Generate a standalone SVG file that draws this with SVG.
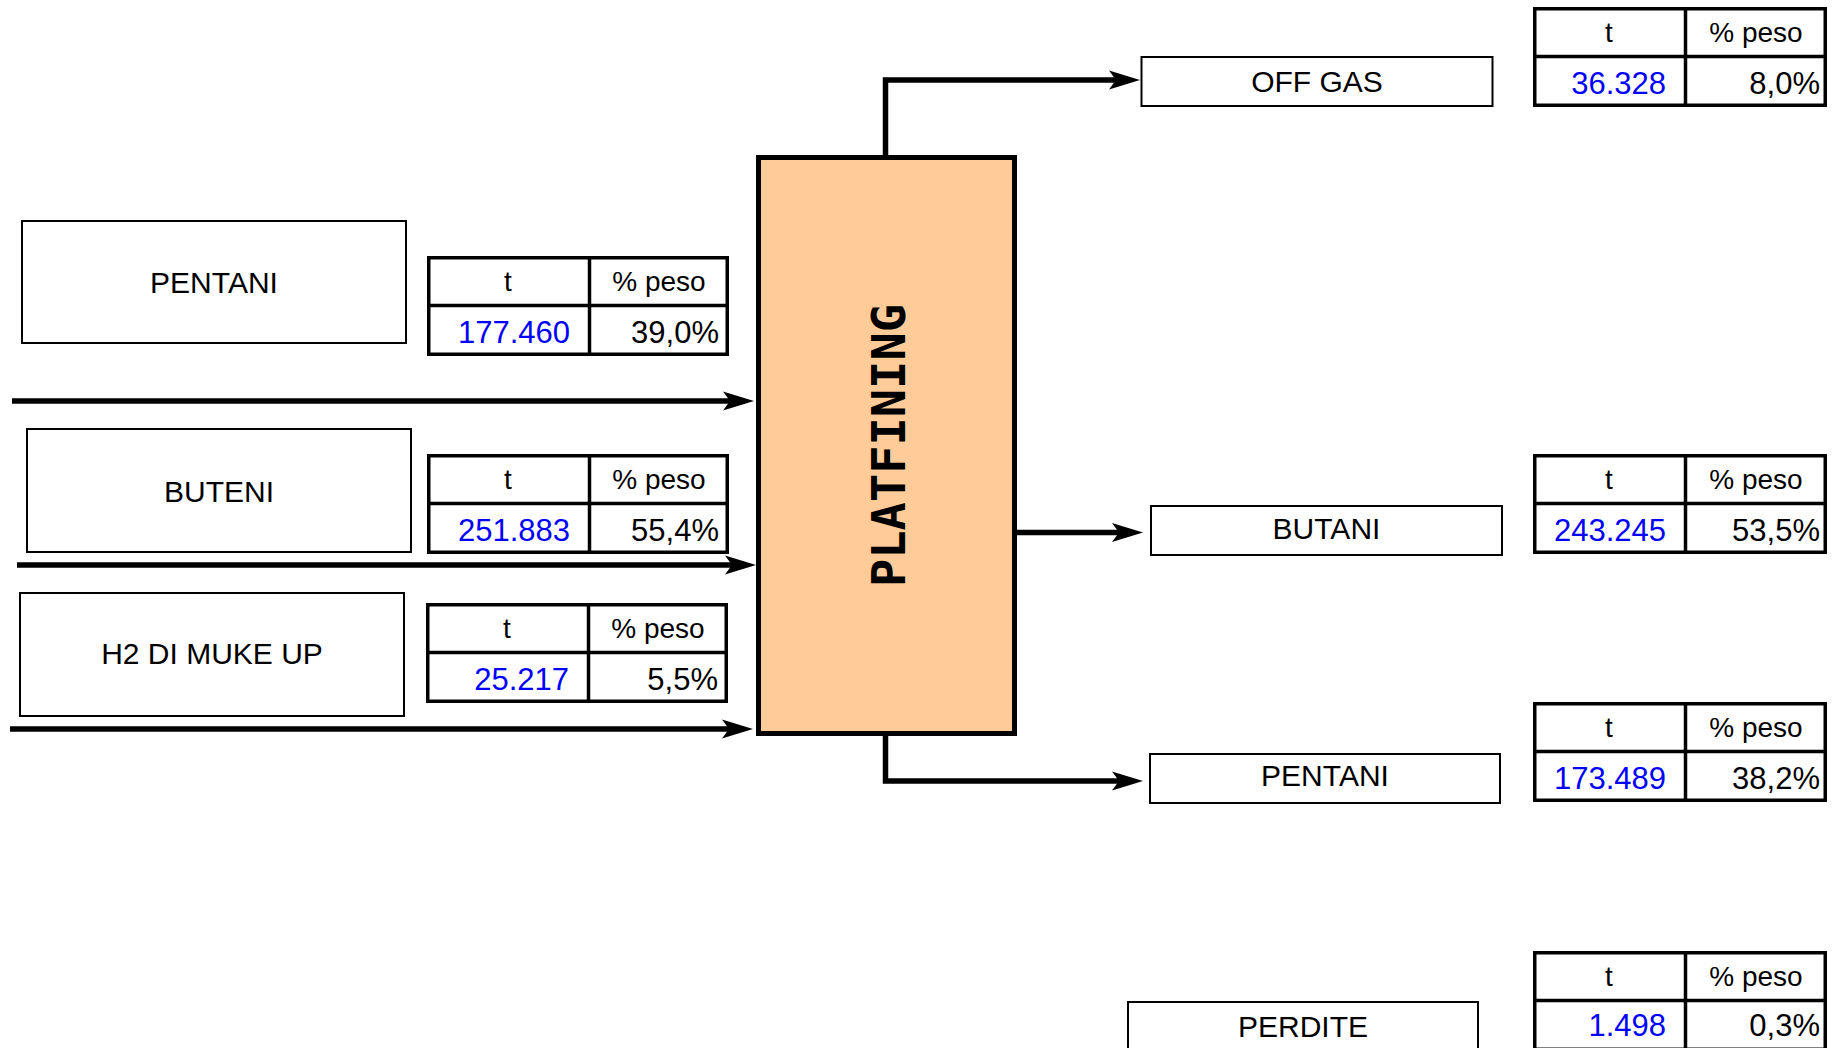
<svg xmlns="http://www.w3.org/2000/svg" width="1836" height="1048" viewBox="0 0 1836 1048">
<defs>
<style>
.lbl{fill:#fff;stroke:#000;stroke-width:2}
.lt{font-family:"Liberation Sans",Arial,sans-serif;font-size:30px;fill:#000;text-anchor:middle}
.tb{fill:#fff;stroke:#000;stroke-width:3.5}
.tl{stroke:#000;stroke-width:3.5}
.th{font-family:"Liberation Sans",Arial,sans-serif;font-size:28px;fill:#000;text-anchor:middle}
.tv{font-family:"Liberation Sans",Arial,sans-serif;font-size:31px;fill:#0000FF;text-anchor:end}
.tp{font-family:"Liberation Sans",Arial,sans-serif;font-size:31px;fill:#000;text-anchor:end}
.flow{fill:none;stroke:#000;stroke-width:5.5;stroke-linejoin:miter}
</style>
<marker id="ah" markerUnits="userSpaceOnUse" markerWidth="40" markerHeight="24" viewBox="-14 -12 40 24" refX="0" refY="0" orient="auto" overflow="visible">
<path d="M20,0 L-11,-9.5 L-4,0 L-11,9.5 Z" fill="#000"/>
</marker>
<g id="ltab">
<rect class="tb" x="1.75" y="1.75" width="298.5" height="96.5"/>
<line class="tl" x1="162.5" y1="0" x2="162.5" y2="100"/>
<line class="tl" x1="0" y1="49.5" x2="302" y2="49.5"/>
<text class="th" x="81" y="35">t</text>
<text class="th" x="232" y="35">% peso</text>
</g>
<g id="rtab">
<rect class="tb" x="1.75" y="1.75" width="290.5" height="96.5"/>
<line class="tl" x1="152.5" y1="0" x2="152.5" y2="100"/>
<line class="tl" x1="0" y1="49.5" x2="294" y2="49.5"/>
<text class="th" x="76" y="35">t</text>
<text class="th" x="223" y="35">% peso</text>
</g>
</defs>
<rect width="1836" height="1048" fill="#fff"/>

<g id="connectors">
<path class="flow" d="M12,401 H734" marker-end="url(#ah)"/>
<path class="flow" d="M17,565 H736" marker-end="url(#ah)"/>
<path class="flow" d="M10,729 H733" marker-end="url(#ah)"/>
<path class="flow" d="M885.5,157 V80 H1120" marker-end="url(#ah)"/>
<path class="flow" d="M1011,532.5 H1123" marker-end="url(#ah)"/>
<path class="flow" d="M885.5,734 V781 H1123" marker-end="url(#ah)"/>
</g>

<g id="platfining">
<rect x="758.5" y="157.5" width="256" height="576" fill="#FFCC99" stroke="#000" stroke-width="5"/>
<text transform="translate(905,445.5) rotate(-90)" font-family="'DejaVu Sans Mono',monospace" font-weight="bold" font-size="47" text-anchor="middle" fill="#000">PLATFINING</text>
</g>

<g id="in-pentani">
<rect class="lbl" x="22" y="221" width="384" height="122"/>
<text class="lt" x="214" y="292.5">PENTANI</text>
</g>
<g id="in-pentani-table" transform="translate(427,256)">
<use href="#ltab"/>
<text class="tv" x="143" y="87">177.460</text>
<text class="tp" x="292" y="87">39,0%</text>
</g>

<g id="in-buteni">
<rect class="lbl" x="27" y="429" width="384" height="123"/>
<text class="lt" x="219" y="501.5">BUTENI</text>
</g>
<g id="in-buteni-table" transform="translate(427,454)">
<use href="#ltab"/>
<text class="tv" x="143" y="87">251.883</text>
<text class="tp" x="292" y="87">55,4%</text>
</g>

<g id="in-h2">
<rect class="lbl" x="20" y="593" width="384" height="123"/>
<text class="lt" x="212" y="664">H2 DI MUKE UP</text>
</g>
<g id="in-h2-table" transform="translate(426,603)">
<use href="#ltab"/>
<text class="tv" x="143" y="87">25.217</text>
<text class="tp" x="292" y="87">5,5%</text>
</g>

<g id="out-offgas">
<rect class="lbl" x="1141.5" y="57" width="351" height="49"/>
<text class="lt" x="1317" y="91.5">OFF GAS</text>
</g>
<g id="out-offgas-table" transform="translate(1533,7)">
<use href="#rtab"/>
<text class="tv" x="133" y="87">36.328</text>
<text class="tp" x="287" y="87">8,0%</text>
</g>

<g id="out-butani">
<rect class="lbl" x="1151" y="506" width="351" height="49"/>
<text class="lt" x="1326.5" y="538.5">BUTANI</text>
</g>
<g id="out-butani-table" transform="translate(1533,454)">
<use href="#rtab"/>
<text class="tv" x="133" y="87">243.245</text>
<text class="tp" x="287" y="87">53,5%</text>
</g>

<g id="out-pentani">
<rect class="lbl" x="1150" y="754" width="350" height="49"/>
<text class="lt" x="1325" y="786">PENTANI</text>
</g>
<g id="out-pentani-table" transform="translate(1533,702)">
<use href="#rtab"/>
<text class="tv" x="133" y="87">173.489</text>
<text class="tp" x="287" y="87">38,2%</text>
</g>

<g id="out-perdite">
<rect class="lbl" x="1128" y="1002" width="350" height="60"/>
<text class="lt" x="1303" y="1036.5">PERDITE</text>
</g>
<g id="out-perdite-table" transform="translate(1533,951)">
<use href="#rtab"/>
<text class="tv" x="133" y="85">1.498</text>
<text class="tp" x="287" y="85">0,3%</text>
</g>
</svg>
